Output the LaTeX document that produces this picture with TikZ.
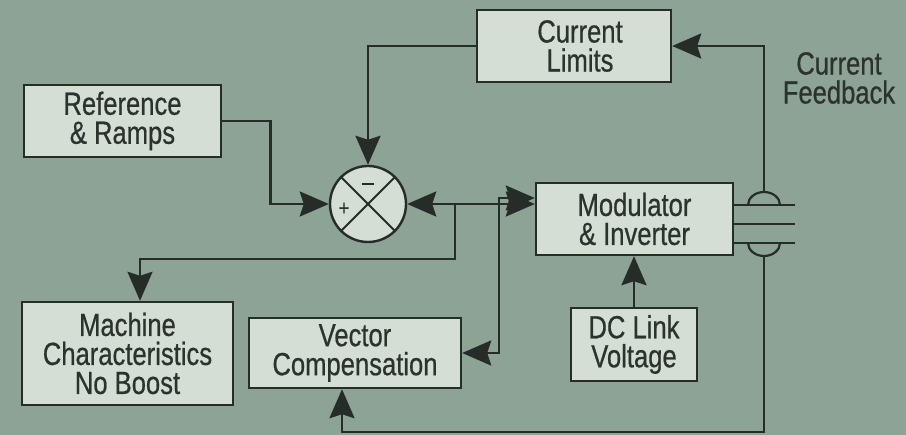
\documentclass[tikz,border=0pt]{standalone}
\usepackage{fontspec}
\setmainfont[FakeStretch=0.8,FakeBold=0.6]{Liberation Sans}
\usetikzlibrary{arrows.meta}
\definecolor{bgc}{RGB}{140,163,150}
\definecolor{boxc}{RGB}{212,222,212}
\definecolor{inkc}{RGB}{38,44,40}
\definecolor{txtc}{RGB}{44,50,46}
\begin{document}
\begin{tikzpicture}[x=1pt,y=-1pt,
  blk/.style={draw=inkc,line width=2.4pt,fill=boxc,rectangle,inner sep=0pt,
     align=center,text=txtc,font=\fontsize{32}{29}\selectfont},
  wire/.style={draw=inkc,line width=2.6pt},
  tip/.tip={Stealth[length=29pt,width=25pt,inset=4pt]},
  arr/.style={wire,-tip},
  arrtwo/.style={wire,tip-tip},
  lbl/.style={text=txtc,align=center,font=\fontsize{32}{29}\selectfont}]
\fill[bgc] (0,0) rectangle (906,435);
\useasboundingbox (0,0) rectangle (906,435);
\node[blk,minimum width=194pt,minimum height=72pt] (CL) at (574,46) {\hspace*{12pt}Current\\\hspace*{12pt}Limits};
\node[blk,minimum width=197pt,minimum height=72pt] (RR) at (122.5,121) {Reference\\\& Ramps};
\node[circle,draw=inkc,line width=2.4pt,fill=boxc,minimum size=76pt,inner sep=0pt] (sum) at (368,204) {};
\node[blk,minimum width=197pt,minimum height=72pt] (MI) at (634.5,219) {Modulator\\\& Inverter};
\node[blk,minimum width=211pt,minimum height=103pt] (MC) at (127.5,353.5) {Machine\\Characteristics\\No Boost};
\node[blk,minimum width=212pt,minimum height=70pt] (VC) at (355,353) {Vector\\Compensation};
\node[blk,minimum width=126pt,minimum height=73pt] (DC) at (634,344.5) {DC Link\\Voltage};
\node[lbl] (CF) at (839,78) {Current\\Feedback};
% summing junction cross and signs
\draw[inkc,line width=2pt] (sum.north west) -- (sum.south east);
\draw[inkc,line width=2pt] (sum.north east) -- (sum.south west);
\draw[inkc,line width=2.4pt] (362,184) -- (374,184);
\node[text=txtc,font=\fontsize{22}{22}\selectfont] (plus) at (344,209) {+};
% current sensor
\coordinate (s1) at (733,205);
\coordinate (s2) at (733,224);
\coordinate (s3) at (733,243);
\draw[wire,line width=2.2pt] (s1) -- ++(62,0);
\draw[wire,line width=2.2pt] (s2) -- ++(62,0);
\draw[wire,line width=2.2pt] (s3) -- ++(62,0);
\draw[wire,line width=2.2pt] (748,205) arc[start angle=180,end angle=360,x radius=16,y radius=13];
\draw[wire,line width=2.2pt] (748,243) arc[start angle=180,end angle=0,x radius=16,y radius=13];
\coordinate (fbT) at (764,192);
\coordinate (fbB) at (764,256);
\coordinate (fbC) at (764,432);
% connectors
\draw[arr] (CL.west) -| (sum.north);
\draw[arr] (RR.east) -- ++(48,0) |- (sum.west);
\draw[arr] (fbT) |- (CL.east);
\draw[arr] (fbB) -- (fbC) -| ([xshift=-13pt]VC.south);
\draw[arrtwo] (sum.east) -- (sum.east -| MI.west);
\coordinate (j1) at (455,204);
\draw[arr] (j1) -- (455,259) -| ([xshift=12.5pt]MC.north);
\draw[arrtwo] ([yshift=21pt]MI.west) -- ++(-36,0) |- (VC.east);
\draw[arr] (DC.north) -- (DC.north |- MI.south);
\end{tikzpicture}
\end{document}
